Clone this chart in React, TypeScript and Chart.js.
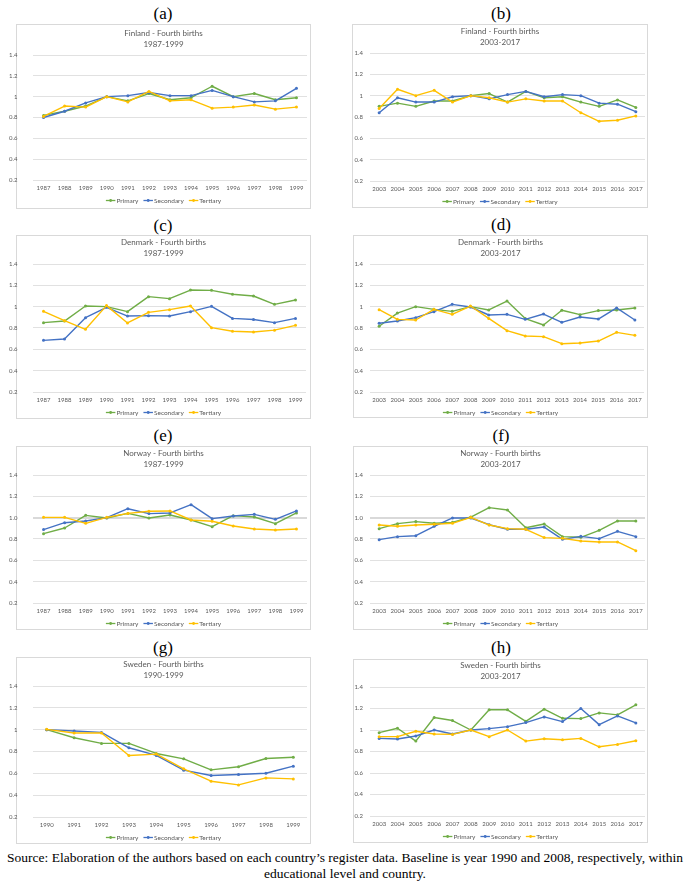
import React, { useEffect, useRef } from "react";
import { Chart, registerables } from "chart.js";
Chart.register(...registerables);

// ---------- categories ----------
const years8799 = ["1987","1988","1989","1990","1991","1992","1993","1994","1995","1996","1997","1998","1999"];
const years9099 = ["1990","1991","1992","1993","1994","1995","1996","1997","1998","1999"];
const years0317 = ["2003","2004","2005","2006","2007","2008","2009","2010","2011","2012","2013","2014","2015","2016","2017"];
const yTickValues = [0.2, 0.4, 0.6, 0.8, 1.0, 1.2, 1.4];
const seriesNames = ["Primary", "Secondary", "Tertiary"];

// ---------- (a) Finland 1987-1999 ----------
const finA_primary = [0.82,0.86,0.91,1.00,0.96,1.03,0.97,0.99,1.10,1.00,1.03,0.97,0.99];
const finA_secondary = [0.80,0.86,0.94,1.00,1.01,1.04,1.01,1.01,1.06,1.00,0.95,0.96,1.08];
const finA_tertiary = [0.81,0.91,0.90,1.00,0.95,1.05,0.96,0.97,0.89,0.90,0.92,0.88,0.90];
// ---------- (b) Finland 2003-2017 ----------
const finB_primary = [0.90,0.93,0.90,0.95,0.95,1.00,1.02,0.94,1.04,0.98,0.99,0.94,0.90,0.96,0.89];
const finB_secondary = [0.84,0.98,0.94,0.94,0.99,1.00,0.97,1.01,1.04,0.99,1.01,1.00,0.93,0.92,0.85];
const finB_tertiary = [0.88,1.06,1.00,1.05,0.94,1.00,0.98,0.94,0.97,0.95,0.95,0.84,0.76,0.77,0.81];
// ---------- (c) Denmark 1987-1999 ----------
const denC_primary = [0.85,0.865,1.006,1.00,0.953,1.094,1.075,1.156,1.153,1.116,1.10,1.022,1.063];
const denC_secondary = [0.684,0.697,0.897,0.994,0.912,0.916,0.912,0.953,1.003,0.89,0.88,0.85,0.89];
const denC_tertiary = [0.956,0.869,0.788,1.01,0.847,0.947,0.972,1.006,0.803,0.769,0.763,0.78,0.825];
// ---------- (d) Denmark 2003-2017 ----------
const denD_primary = [0.816,0.94,1.00,0.975,0.956,1.00,0.969,1.053,0.888,0.828,0.966,0.925,0.963,0.969,0.988];
const denD_secondary = [0.844,0.866,0.897,0.953,1.022,0.997,0.922,0.928,0.881,0.931,0.853,0.903,0.884,0.988,0.875];
const denD_tertiary = [0.972,0.881,0.875,0.975,0.928,1.006,0.89,0.775,0.725,0.719,0.653,0.659,0.678,0.759,0.731];
// ---------- (e) Norway 1987-1999 ----------
const norE_primary = [0.85,0.903,1.022,0.997,1.04,0.997,1.025,0.978,0.916,1.019,1.006,0.944,1.044];
const norE_secondary = [0.888,0.953,0.969,1.00,1.084,1.038,1.044,1.122,0.991,1.016,1.031,0.984,1.063];
const norE_tertiary = [1.003,1.003,0.947,1.003,1.04,1.06,1.063,0.978,0.966,0.922,0.894,0.884,0.894];
// ---------- (f) Norway 2003-2017 ----------
const norF_primary = [0.897,0.944,0.963,0.947,0.956,1.006,1.094,1.072,0.906,0.941,0.822,0.816,0.881,0.969,0.969];
const norF_secondary = [0.794,0.822,0.831,0.919,0.997,0.997,0.934,0.891,0.891,0.912,0.797,0.825,0.803,0.872,0.822];
const norF_tertiary = [0.931,0.919,0.931,0.938,0.947,1.003,0.931,0.897,0.891,0.813,0.806,0.781,0.772,0.772,0.691];
// ---------- (g) Sweden 1990-1999 ----------
const sweG_primary = [1.00,0.926,0.874,0.874,0.782,0.733,0.632,0.66,0.736,0.748];
const sweG_secondary = [1.00,0.988,0.975,0.834,0.764,0.629,0.58,0.589,0.601,0.666];
const sweG_tertiary = [1.003,0.969,0.969,0.764,0.776,0.641,0.528,0.494,0.558,0.549];
// ---------- (h) Sweden 2003-2017 ----------
const sweH_primary = [0.975,1.016,0.897,1.116,1.088,1.00,1.188,1.188,1.081,1.194,1.109,1.106,1.159,1.141,1.234];
const sweH_secondary = [0.922,0.916,0.944,1.00,0.963,1.00,1.013,1.031,1.069,1.122,1.078,1.20,1.05,1.131,1.066];
const sweH_tertiary = [0.938,0.938,0.988,0.963,0.959,1.00,0.938,1.00,0.897,0.919,0.909,0.922,0.844,0.866,0.90];

const COLORS = ["#70ad47", "#4472c4", "#ffc000"];
const TEXT = "#595959";
const GRID = "#d9d9d9";
const FONT = "Lato, 'Open Sans', sans-serif";
const SERIF = "'Liberation Serif', 'DejaVu Serif', serif";

type PanelDef = {
  letter: string;
  letterXY: [number, number];
  box: [number, number, number, number];
  plot: [number, number, number, number];
  title1: string;
  title2: string;
  labels: string[];
  series: number[][];
  oneDecimal?: boolean;
  labelGap: number;
};

const panels: PanelDef[] = [
  { letter: "(a)", letterXY: [163, 12.7], box: [16, 24, 295, 185], plot: [33, 55, 307, 180], title1: "Finland - Fourth births", title2: "1987-1999", labels: years8799, series: [finA_primary, finA_secondary, finA_tertiary], labelGap: 15.5 },
  { letter: "(b)", letterXY: [501, 13], box: [352, 24, 296, 184], plot: [370, 53.3, 645, 181], title1: "Finland - Fourth births", title2: "2003-2017", labels: years0317, series: [finB_primary, finB_secondary, finB_tertiary], labelGap: 7 },
  { letter: "(c)", letterXY: [163, 225], box: [16, 235, 295, 184], plot: [33, 264, 306, 392], title1: "Denmark - Fourth births", title2: "1987-1999", labels: years8799, series: [denC_primary, denC_secondary, denC_tertiary], labelGap: 15.5 },
  { letter: "(d)", letterXY: [501, 224], box: [353, 235, 295, 183], plot: [370, 264, 644, 392], title1: "Denmark - Fourth births", title2: "2003-2017", labels: years0317, series: [denD_primary, denD_secondary, denD_tertiary], labelGap: 7 },
  { letter: "(e)", letterXY: [163, 435], box: [16, 446, 295, 184], plot: [33, 475, 307, 603], title1: "Norway - Fourth births", title2: "1987-1999", labels: years8799, series: [norE_primary, norE_secondary, norE_tertiary], oneDecimal: true, labelGap: 15.5 },
  { letter: "(f)", letterXY: [501, 435], box: [353, 446, 295, 184], plot: [370, 475, 645, 603], title1: "Norway - Fourth births", title2: "2003-2017", labels: years0317, series: [norF_primary, norF_secondary, norF_tertiary], oneDecimal: true, labelGap: 7 },
  { letter: "(g)", letterXY: [163, 647], box: [16, 657, 295, 187], plot: [33, 686.3, 307, 816.7], title1: "Sweden - Fourth births", title2: "1990-1999", labels: years9099, series: [sweG_primary, sweG_secondary, sweG_tertiary], labelGap: 15.5 },
  { letter: "(h)", letterXY: [501, 647], box: [353, 659, 295, 184], plot: [370, 687.3, 645, 815.7], title1: "Sweden - Fourth births", title2: "2003-2017", labels: years0317, series: [sweH_primary, sweH_secondary, sweH_tertiary], labelGap: 7 },
];

const PAD_L = 26, PAD_T = 30, PAD_R = 4, PAD_B = 28;

const decoPlugin = {
  id: "deco",
  afterDraw(chart: any, _args: any, opts: any) {
    const ctx = chart.ctx as CanvasRenderingContext2D;
    const area = chart.chartArea;
    const cx = opts.cx;
    ctx.save();
    ctx.fillStyle = TEXT;
    ctx.textAlign = "center";
    ctx.textBaseline = "middle";
    ctx.font = `8px ${FONT}`;
    ctx.fillText(opts.title1, cx, area.top - 22);
    ctx.fillText(opts.title2, cx, area.top - 11);
    // legend
    ctx.font = `6.5px ${FONT}`;
    const lineW = 9.5, gapText = 1, gapItem = 5;
    const widths = seriesNames.map((n) => ctx.measureText(n).width);
    const total = widths.reduce((s, w) => s + w + lineW + gapText, 0) + gapItem * (seriesNames.length - 1);
    let x = cx - total / 2;
    const y = area.bottom + 20.5;
    ctx.textAlign = "left";
    seriesNames.forEach((n, i) => {
      ctx.strokeStyle = COLORS[i];
      ctx.fillStyle = COLORS[i];
      ctx.lineWidth = 1.3;
      ctx.beginPath();
      ctx.moveTo(x, y);
      ctx.lineTo(x + lineW, y);
      ctx.stroke();
      ctx.beginPath();
      ctx.arc(x + lineW / 2, y, 1.4, 0, Math.PI * 2);
      ctx.fill();
      ctx.fillStyle = TEXT;
      ctx.fillText(n, x + lineW + gapText, y + 0.3);
      x += lineW + gapText + widths[i] + gapItem;
    });
    ctx.restore();
  },
};

function Panel({ p }: { p: PanelDef }) {
  const ref = useRef<HTMLCanvasElement>(null);
  const [x0, yTop, x1, yBot] = p.plot;
  const cLeft = Math.round(x0 - PAD_L);
  const cTop = Math.round(yTop - PAD_T);
  const W = Math.round(x1 + PAD_R) - cLeft;
  const H = Math.round(yBot + PAD_B) - cTop;
  const cx = p.box[0] + p.box[2] / 2 - cLeft;

  useEffect(() => {
    if (!ref.current) return;
    const chart = new Chart(ref.current, {
      type: "line",
      data: {
        labels: p.labels,
        datasets: p.series.map((d, i) => ({
          label: seriesNames[i],
          data: d,
          borderColor: COLORS[i],
          backgroundColor: COLORS[i],
          borderWidth: 1.4,
          pointRadius: 1.5,
          pointBorderWidth: 0,
          pointBackgroundColor: COLORS[i],
          borderJoinStyle: "round" as const,
          tension: 0,
          order: 2 - i,
        })),
      },
      options: {
        responsive: false,
        animation: false,
        devicePixelRatio: 1,
        layout: { padding: { top: PAD_T, right: PAD_R, left: 0, bottom: 0 } },
        plugins: {
          legend: { display: false },
          title: { display: false },
          tooltip: { enabled: false },
          deco: { cx, title1: p.title1, title2: p.title2 },
        } as any,
        scales: {
          x: {
            type: "category",
            offset: true,
            grid: { display: false, drawTicks: false },
            border: { display: false },
            ticks: { color: TEXT, font: { family: FONT, size: 6 }, padding: 4.5, maxRotation: 0, autoSkip: false },
            afterFit: (s: any) => { s.height = PAD_B; },
          },
          y: {
            min: 0.2,
            max: 1.4,
            afterBuildTicks: (s: any) => { s.ticks = yTickValues.map((v) => ({ value: v })); },
            grid: {
              color: GRID,
              lineWidth: (c: any) => (p.oneDecimal && c.tick && Math.abs(c.tick.value - 1) < 1e-6 ? 2 : 0.8),
              drawTicks: false,
            },
            border: { display: false },
            ticks: {
              color: TEXT,
              font: { family: FONT, size: 6 },
              padding: p.labelGap,
              callback: (v: any) => (p.oneDecimal ? Number(v).toFixed(1) : String(Number(Number(v).toFixed(1)))),
            },
            afterFit: (s: any) => { s.width = PAD_L; },
          },
        },
      },
      plugins: [decoPlugin],
    } as any);
    return () => chart.destroy();
  }, []);

  return (
    <>
      <div
        style={{
          position: "absolute",
          left: p.box[0],
          top: p.box[1],
          width: p.box[2] - 2,
          height: p.box[3] - 2,
          border: `1px solid ${GRID}`,
          background: "#fff",
        }}
      />
      <div
        style={{
          position: "absolute",
          left: p.letterXY[0],
          top: p.letterXY[1],
          transform: "translate(-50%, -50%)",
          fontFamily: SERIF,
          fontSize: 17,
          lineHeight: 1,
          color: "#000",
        }}
      >
        {p.letter}
      </div>
      <canvas
        ref={ref}
        width={W}
        height={H}
        style={{ position: "absolute", left: cLeft, top: cTop, width: W, height: H }}
      />
    </>
  );
}

export default function App() {
  return (
    <div
      style={{
        position: "absolute",
        left: 0,
        top: 0,
        width: 690,
        height: 882,
        background: "#fff",
        overflow: "hidden",
      }}
    >
      {panels.map((p) => (
        <Panel key={p.letter} p={p} />
      ))}
      <div
        style={{
          position: "absolute",
          left: 0,
          top: 850,
          width: 690,
          textAlign: "center",
          fontFamily: SERIF,
          fontSize: 13.5,
          lineHeight: "16px",
          color: "#000",
          whiteSpace: "nowrap",
        }}
      >
        Source: Elaboration of the authors based on each country’s register data. Baseline is year 1990 and 2008, respectively, within
        <br />
        educational level and country.
      </div>
    </div>
  );
}
